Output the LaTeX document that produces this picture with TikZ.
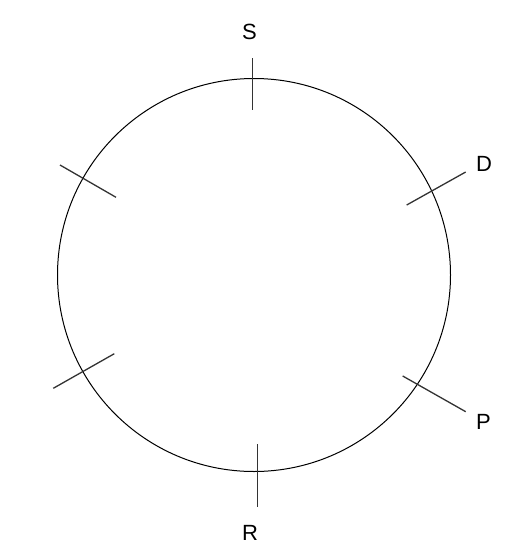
\documentclass[tikz,border=0pt]{standalone}
\usepackage{fontspec}
\setmainfont{Liberation Sans}
\begin{document}
\begin{tikzpicture}[x=1pt,y=-1pt,
  ring/.style={draw=black,line width=1pt},
  tick/.style={draw=black!80,line width=1.3pt},
  lbl/.style={font=\fontsize{22}{22}\selectfont,inner sep=0pt}]
\useasboundingbox (0,0) rectangle (524,551);
\node[circle,ring,minimum size=393pt,inner sep=0pt] (c) at (254,275) {};
% ticks
\coordinate (s1) at (252.7,58.3); \coordinate (s2) at (252.7,110);
\coordinate (d1) at (406.7,205); \coordinate (d2) at (465.7,172);
\coordinate (p1) at (402.7,376); \coordinate (p2) at (465.7,411.7);
\coordinate (r1) at (257.7,444); \coordinate (r2) at (257.7,507.3);
\coordinate (l1) at (60,165); \coordinate (l2) at (116,197.3);
\coordinate (m1) at (53.3,388.3); \coordinate (m2) at (114.3,353.7);
\draw[tick] (s1) -- (s2);
\draw[tick] (d1) -- (d2);
\draw[tick] (p1) -- (p2);
\draw[tick] (r1) -- (r2);
\draw[tick] (l1) -- (l2);
\draw[tick] (m1) -- (m2);
\node[lbl] (S) at (249.5,31.5) {S};
\node[lbl] (D) at (484,164) {D};
\node[lbl] (P) at (483.5,421.5) {P};
\node[lbl] (R) at (250,533) {R};
\end{tikzpicture}
\end{document}
